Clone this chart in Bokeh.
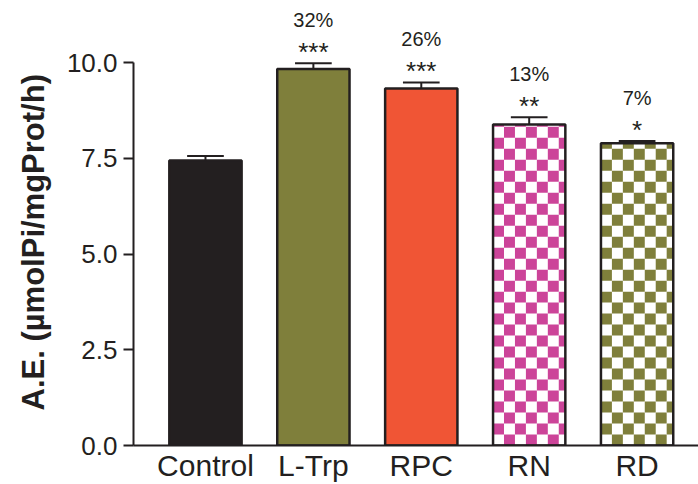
import numpy as np
from bokeh.plotting import figure
from bokeh.models import Range1d, FixedTicker, Title, ColumnDataSource
from bokeh.embed import file_html
from bokeh.resources import INLINE
from bokeh.core.properties import value

categories = ["Control", "L-Trp", "RPC", "RN", "RD"]
means = [7.44, 9.83, 9.32, 8.38, 7.89]
errors = [0.12, 0.15, 0.16, 0.19, 0.06]
stars = ["", "***", "***", "**", "*"]
percents = ["", "32%", "26%", "13%", "7%"]
colors = ["#231f20", "#7f7f3b", "#f05535", "#cc4499", "#7f7f3b"]
checkered = [False, False, False, True, True]
y_ticks = [0, 2.5, 5.0, 7.5, 10.0]
y_tick_labels = ["0.0", "2.5", "5.0", "7.5", "10.0"]
y_title = "A.E. (µmolPi/mgProt/h)"

FONT = "Liberation Sans"
INK = "#231f20"
BAR_W = 0.67

xs = list(range(len(categories)))
caps = [m + e for m, e in zip(means, errors)]

p = figure(width=698, height=484, x_range=Range1d(-0.667, 4.569), y_range=Range1d(0, 11.62),
           min_border_left=133, min_border_right=0, min_border_top=0, min_border_bottom=39,
           toolbar_location=None, output_backend="svg")
p.outline_line_color = None
p.xgrid.visible = False
p.ygrid.visible = False
p.background_fill_color = "white"
p.border_fill_color = "white"

# bars: solid fill for plain bars, white base for checkered ones
fills = ["white" if c else col for c, col in zip(checkered, colors)]
src = ColumnDataSource(dict(x=xs, top=means, fill=fills, cap=caps, stars=stars, pct=percents))
p.vbar(x="x", top="top", bottom=0, width=BAR_W, fill_color="fill", line_color=None, source=src)

# checkerboard cells for checkered bars
cl, cr, cb, ct, cc = [], [], [], [], []
dx = BAR_W / 6.6
dy = 0.287
for i, (m, chk, col) in enumerate(zip(means, checkered, colors)):
    if not chk:
        continue
    left = i - BAR_W / 2
    right = i + BAR_W / 2
    ncol = int(np.ceil(BAR_W / dx))
    nrow = int(np.ceil(m / dy))
    for r in range(nrow):
        for c in range(ncol):
            if (r + c) % 2 == 1:
                l = left + c * dx
                rr = min(left + (c + 1) * dx, right)
                b = r * dy
                t = min((r + 1) * dy, m)
                cl.append(l); cr.append(rr); cb.append(b); ct.append(t); cc.append(col)
p.quad(left=cl, right=cr, bottom=cb, top=ct, fill_color=cc, line_color=None)

# outlines
p.vbar(x="x", top="top", bottom=0, width=BAR_W, fill_color=None, line_color=INK,
       line_width=2.5, source=src)

# error bars (upper half)
p.segment(x0="x", y0="top", x1="x", y1="cap", line_color=INK, line_width=2, source=src)
cap_w = 0.34
p.segment(x0=[x - cap_w / 2 for x in xs], y0=caps, x1=[x + cap_w / 2 for x in xs], y1=caps,
          line_color=INK, line_width=2)

# significance stars and percentages
p.text(x="x", y="cap", text="stars", text_align="center", text_baseline="alphabetic",
       y_offset=-11, text_font=value(FONT), text_font_size="26px", text_color=INK, source=src)
p.text(x="x", y="cap", text="pct", text_align="center", text_baseline="alphabetic",
       y_offset=-43, text_font=value(FONT), text_font_size="20px", text_color=INK, source=src)

# x axis
xa = p.xaxis[0]
xa.ticker = FixedTicker(ticks=xs)
xa.major_label_overrides = {i: c for i, c in enumerate(categories)}
xa.major_tick_line_color = None
xa.major_tick_out = 0
xa.major_tick_in = 0
xa.minor_tick_line_color = None
xa.minor_tick_out = 0
xa.axis_line_width = 2
xa.axis_line_color = INK
xa.major_label_text_font = FONT
xa.major_label_text_font_size = "30px"
xa.major_label_text_color = INK
xa.major_label_standoff = 3

# y axis
ya = p.yaxis[0]
ya.bounds = (0, 10)
ya.ticker = FixedTicker(ticks=y_ticks)
ya.major_label_overrides = {t: l for t, l in zip(y_ticks, y_tick_labels)}
ya.minor_tick_line_color = None
ya.major_tick_out = 10
ya.major_tick_in = 0
ya.major_tick_line_width = 2
ya.major_tick_line_color = INK
ya.axis_line_width = 2
ya.axis_line_color = INK
ya.major_label_text_font = FONT
ya.major_label_text_font_size = "26px"
ya.major_label_text_color = INK
ya.major_label_standoff = 6

ytitle = Title(text=y_title, align="left", offset=35, standoff=26,
               text_font=FONT, text_font_size="31px", text_font_style="bold", text_color=INK)
p.add_layout(ytitle, "left")

open("out.html", "w").write(file_html(p, INLINE))
